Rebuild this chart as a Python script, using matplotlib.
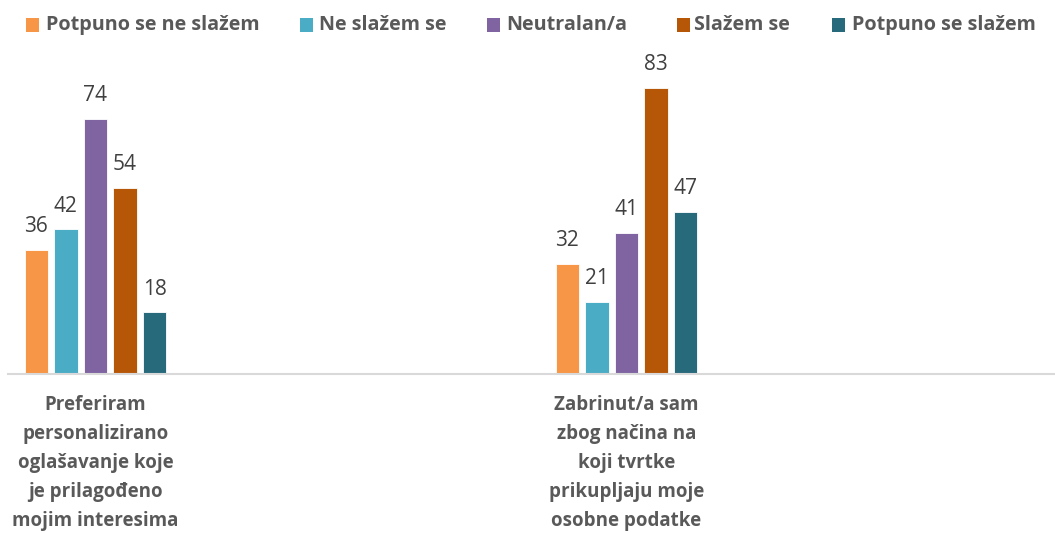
import matplotlib
matplotlib.use("Agg")
import matplotlib.pyplot as plt
from matplotlib.patches import Rectangle
import numpy as np

series = ["Potpuno se ne slažem", "Ne slažem se", "Neutralan/a", "Slažem se", "Potpuno se slažem"]
colors = ["#F79646", "#4BACC6", "#8064A2", "#B65708", "#276A7C"]
categories = ["Preferiram\npersonalizirano\noglašavanje koje\nje prilagođeno\nmojim interesima",
              "Zabrinut/a sam\nzbog načina na\nkoji tvrtke\nprikupljaju moje\nosobne podatke"]
values = [
    [36, 32],
    [42, 21],
    [74, 41],
    [54, 83],
    [18, 47],
]

W, H = 1055, 533
fig = plt.figure(figsize=(W / 100, H / 100), dpi=100)
fig.patch.set_facecolor("white")

FONT = ["Open Sans", "DejaVu Sans"]
base_y = 374.3
ppu = 3.455
ymax = 100
ax = fig.add_axes([8 / W, (H - base_y) / H, 1 - 8 / W, ymax * ppu / H])

unit = 531.0
xl = (8 - 95.5) / unit
xr = (1055 - 95.5) / unit
pitch = 29.6 / unit
bw = 23.5 / unit
x = np.arange(len(categories))

for i, (name, vals, c) in enumerate(zip(series, values, colors)):
    pos = x + (i - 2) * pitch
    bars = ax.bar(pos, vals, width=bw, color=c, edgecolor="white", linewidth=0.6, label=name)
    for b, v in zip(bars, vals):
        ax.annotate(f"{v}", (b.get_x() + b.get_width() / 2, v), xytext=(0, 9), textcoords="offset points",
                    ha="center", va="bottom", fontsize=15, color="#404040", family=FONT)

ax.set_xlim(xl, xr)
ax.set_ylim(0, ymax)
for s in ["top", "right", "left"]:
    ax.spines[s].set_visible(False)
ax.spines["bottom"].set_color("#D9D9D9")
ax.spines["bottom"].set_linewidth(1.5)
ax.set_yticks([])
ax.set_xticks(x)
ax.set_xticklabels(categories, fontsize=13.5, fontweight="bold", color="#595959", family=FONT, linespacing=1.6)
ax.tick_params(axis="x", length=0, pad=15)

# legend
leg_y = 25
sq = 13
items = [(26, 45.7), (300, 319), (487, 506), (676.7, 694), (831.7, 851.7)]
for (sx, tx), name, c in zip(items, series, colors):
    fig.patches.append(Rectangle((sx / W, (H - leg_y - sq / 2) / H), sq / W, sq / H,
                                 transform=fig.transFigure, facecolor=c, edgecolor="none"))
    fig.text(tx / W, (H - leg_y) / H, name, ha="left", va="center", fontsize=14.2, fontweight="bold",
             color="#595959", family=FONT)

fig.savefig("out.png", dpi=100, facecolor="white")
